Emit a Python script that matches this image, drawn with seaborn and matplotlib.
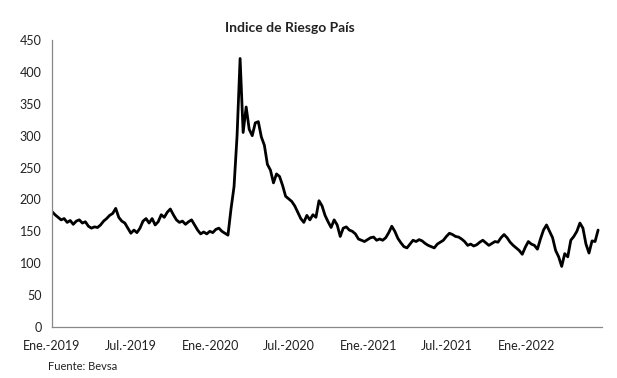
import pandas as pd
import matplotlib
matplotlib.use("Agg")
import matplotlib.pyplot as plt
import seaborn as sns

# Weekly readings of the country-risk index, starting 2019-01-01
start_date = "2019-01-01"
riesgo = [
    181, 176, 172, 168, 170, 164, 167, 161, 166, 168,
    163, 165, 158, 155, 157, 156, 160, 166, 170, 175,
    178, 186, 172, 166, 163, 155, 147, 152, 148, 155,
    166, 170, 163, 170, 160, 165, 176, 172, 180, 185,
    176, 168, 164, 166, 161, 165, 168, 160, 152, 146,
    149, 146, 150, 148, 153, 155, 150, 147, 144, 185,
    220, 300, 421, 305, 345, 310, 300, 320, 322, 298,
    285, 255, 246, 226, 240, 236, 222, 205, 201, 197,
    190, 180, 170, 164, 175, 168, 176, 172, 198, 190,
    175, 165, 156, 168, 160, 142, 155, 157, 152, 150,
    146, 138, 136, 134, 137, 140, 141, 136, 138, 136,
    140, 148, 158, 150, 139, 132, 126, 124, 130, 136,
    134, 137, 135, 131, 128, 126, 124, 130, 133, 136,
    142, 147, 145, 142, 141, 138, 134, 128, 130, 127,
    129, 133, 136, 132, 128, 131, 134, 133, 140, 145,
    140, 133, 128, 124, 120, 114, 125, 134, 130, 128,
    122, 138, 152, 160, 150, 140, 120, 110, 95, 115,
    110, 136, 142, 150, 163, 155, 130, 116, 135, 134,
    152,
]
tick_dates = ["2019-01-01", "2019-07-01", "2020-01-01", "2020-07-01",
              "2021-01-01", "2021-07-01", "2022-01-01"]
tick_labels = ["Ene.-2019", "Jul.-2019", "Ene.-2020", "Jul.-2020",
               "Ene.-2021", "Jul.-2021", "Ene.-2022"]

df = pd.DataFrame({
    "fecha": pd.date_range(start_date, periods=len(riesgo), freq="7D"),
    "valor": riesgo,
})

sns.set_style("white")
plt.rcParams["font.family"] = ["Lato", "DejaVu Sans"]

fig = plt.figure(figsize=(6.17, 3.78), dpi=100)
ax = fig.add_axes([52 / 617, 1 - 327 / 378, 550 / 617, 287 / 378])

sns.lineplot(data=df, x="fecha", y="valor", color="black", linewidth=2.0, ax=ax)

ax.set_xlim(pd.Timestamp("2019-01-01"), pd.Timestamp("2022-06-23"))
ax.set_ylim(0, 450)
ax.set_yticks(range(0, 451, 50))
ax.set_xticks(pd.to_datetime(tick_dates))
ax.set_xticklabels(tick_labels)
ax.set_xlabel("")
ax.set_ylabel("")

for side in ["top", "right"]:
    ax.spines[side].set_visible(False)
for side in ["left", "bottom"]:
    ax.spines[side].set_color("#888888")
    ax.spines[side].set_linewidth(0.9)
ax.tick_params(axis="both", length=4, width=0.9, color="#888888",
               labelsize=9, labelcolor="#222222", direction="out")
ax.tick_params(axis="x", pad=5)

fig.text(290 / 617, 1 - 28 / 378, "Indice de Riesgo País", ha="center",
         va="center", fontsize=10, fontweight="bold", color="#222222")
fig.text(48 / 617, 1 - 366 / 378, "Fuente: Bevsa", ha="left", va="center",
         fontsize=8, color="#222222")

fig.savefig("out.png", dpi=100)
